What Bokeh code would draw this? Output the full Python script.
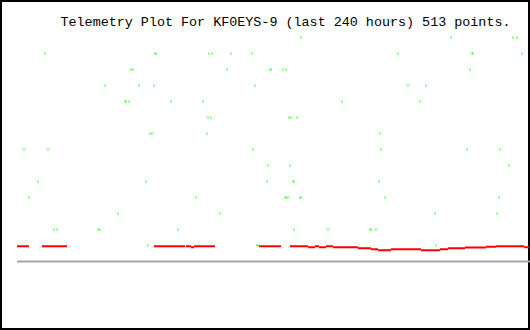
from bokeh.plotting import figure
from bokeh.models import Range1d, Label, ColumnDataSource
from bokeh.embed import file_html
from bokeh.resources import INLINE

# Sample index (0..512) of each green point and its value
green_x = [75, 247, 256, 374,
           284, 434, 496, 500,
           28, 138, 139, 192, 195, 214, 235, 381, 455, 456, 505,
           114, 116, 210, 253, 254, 266, 269, 453,
           88, 122, 137, 238, 391, 409,
           108, 109, 112, 154, 186, 325, 403,
           191, 194, 272, 274, 280,
           133, 135, 190, 363,
           7, 31, 236, 364, 450, 483,
           251, 273, 492,
           21, 129, 250, 276, 277, 362,
           12, 179, 268, 269, 271, 283, 284, 368, 482,
           101, 203, 418, 480,
           37, 40, 81, 83, 161, 277, 311, 353, 354, 359,
           131, 240, 241, 419]
green_y = [15] * 4 + [14] * 4 + [13] * 11 + [12] * 8 + [11] * 6 + [10] * 7 + \
          [9] * 5 + [8] * 4 + [7] * 6 + [6] * 3 + [5] * 6 + [4] * 9 + \
          [3] * 4 + [2] * 10 + [1] * 4

# Red series as runs of constant value: start index, end index, value
red_start = [0, 25, 137, 169, 174, 177, 242, 273, 291, 298, 302, 309, 316,
             341, 354, 361, 374, 404, 423, 431, 448, 469, 479, 507]
red_end = [12, 50, 168, 174, 177, 198, 264, 291, 298, 302, 309, 316, 341,
           354, 361, 374, 404, 423, 431, 448, 469, 479, 507, 512]
red_val = [0.95, 0.95, 0.95, 0.95, 0.89, 0.95, 0.95, 0.95, 0.89, 0.95, 0.89,
           0.95, 0.89, 0.83, 0.77, 0.70, 0.77, 0.70, 0.77, 0.83, 0.87, 0.92,
           0.95, 0.89]

zero_start = [0]
zero_level = [0]

title_text = "Telemetry Plot For KF0EYS-9 (last 240 hours) 513 points."

p = figure(width=530, height=330, output_backend="svg", toolbar_location=None,
           x_range=Range1d(-16.5, 513.5), y_range=Range1d(-4.3125, 16.3125),
           min_border=0)
p.axis.visible = False
p.grid.visible = False
p.background_fill_color = "white"
p.border_fill_color = "white"
p.outline_line_color = "black"
p.outline_line_width = 3

p.ray(x=zero_start, y=zero_level, length=0, angle=0,
      line_color="#a6a6a6", line_width=2)

p.segment(x0=red_start, y0=red_val, x1=red_end, y1=red_val,
          line_color="#ff0000", line_width=2, line_cap="butt")

src = ColumnDataSource(dict(x=green_x, y=green_y))
p.rect(x="x", y="y", width=1, height=0.125, source=src,
       fill_color="#00ff00", line_color=None)

p.add_layout(Label(x=60, y=308, x_units="screen", y_units="screen",
                   text=title_text, text_font="Liberation Mono",
                   text_font_size="13.4px", text_color="black",
                   text_baseline="alphabetic"))

open("out.html", "w").write(file_html(p, INLINE))
